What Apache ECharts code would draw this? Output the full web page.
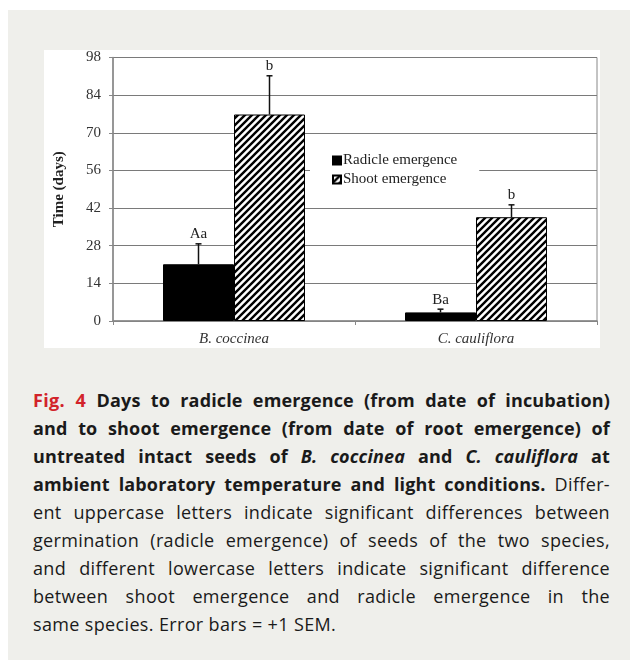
<!DOCTYPE html>
<html>
<head>
<meta charset="utf-8">
<script src="https://cdn.jsdelivr.net/npm/echarts@6/dist/echarts.min.js"></script>
<style>
  body { margin: 0; width: 630px; height: 660px; background: #fff; position: relative; overflow: hidden; }
  #bg { position: absolute; left: 8px; top: 10px; width: 622px; height: 650px; background: #efefeb; }
  #panel { position: absolute; left: 44px; top: 50px; width: 556px; height: 298px; background: #fff; }
  #chart { width: 556px; height: 298px; }
  #caption { position: absolute; left: 33px; top: 386px; width: 577px; font-family: "Open Sans", "Noto Sans", sans-serif; font-size: 18px; letter-spacing: 0.35px; color: #1a1a1a; }
  #caption .ln { height: 28px; line-height: 28px; white-space: nowrap; text-align: justify; text-align-last: justify; }
  #caption .ln.last { text-align: left; text-align-last: left; }
  #caption b { font-weight: 700; letter-spacing: 0.15px; }
  #caption .fig { color: #d2232a; font-weight: 700; }
</style>
</head>
<body>
<div id="bg"></div>
<div id="panel"><div id="chart"></div></div>
<div id="caption">
  <div class="ln"><span class="fig">Fig. 4</span> <b>Days to radicle emergence (from date of incubation)</b></div>
  <div class="ln"><b>and to shoot emergence (from date of root emergence) of</b></div>
  <div class="ln"><b>untreated intact seeds of <i>B. coccinea</i> and <i>C. cauliflora</i> at</b></div>
  <div class="ln"><b>ambient laboratory temperature and light conditions.</b> Differ-</div>
  <div class="ln">ent uppercase letters indicate significant differences between</div>
  <div class="ln">germination (radicle emergence) of seeds of the two species,</div>
  <div class="ln">and different lowercase letters indicate significant difference</div>
  <div class="ln">between shoot emergence and radicle emergence in the</div>
  <div class="ln last">same species. Error bars = +1 SEM.</div>
</div>
<script>
// 数据
var categories = ['B. coccinea', 'C. cauliflora'];
var radicleDays = [21.1, 3.2];
var shootDays = [76.8, 38.6];
var radicleSem = [7.6, 1.2];
var shootSem = [14.4, 4.6];
var radicleLetters = ['Aa', 'Ba'];
var shootLetters = ['b', 'b'];

var serif = '"Liberation Serif", "Times New Roman", serif';
var barW = 71;

// 斜线填充
var hatch = document.createElement('canvas');
hatch.width = 7;
hatch.height = 7;
var hc = hatch.getContext('2d');
hc.fillStyle = '#fff';
hc.fillRect(0, 0, 7, 7);
hc.strokeStyle = '#000';
hc.lineWidth = 2.4;
hc.beginPath();
hc.moveTo(0, 7); hc.lineTo(7, 0);
hc.moveTo(-1, 1); hc.lineTo(1, -1);
hc.moveTo(6, 8); hc.lineTo(8, 6);
hc.stroke();

// 误差线 + 字母
function errData(means, sems) {
  var out = [];
  for (var i = 0; i < means.length; i++) {
    out.push([i, means[i], sems[i]]);
  }
  return out;
}
function errRender(offset, letters) {
  return function (params, api) {
    var idx = api.value(0);
    var mean = api.value(1);
    var sem = api.value(2);
    var p0 = api.coord([idx, mean]);
    var p1 = api.coord([idx, mean + sem]);
    var x = p0[0] + offset;
    return {
      type: 'group',
      children: [
        { type: 'line', shape: { x1: x, y1: p0[1], x2: x, y2: p1[1] }, style: { stroke: '#111', lineWidth: 1.5 } },
        { type: 'line', shape: { x1: x - 3, y1: p1[1], x2: x + 3, y2: p1[1] }, style: { stroke: '#111', lineWidth: 1.5 } },
        { type: 'text', style: { text: letters[params.dataIndex], x: x, y: p1[1] - 2, align: 'center', verticalAlign: 'bottom',
            textAlign: 'center', textVerticalAlign: 'bottom', font: '15px ' + serif, fill: '#222' } }
      ]
    };
  };
}

var chart = echarts.init(document.getElementById('chart'));
var option = {
  animation: false,
  grid: { left: 57, right: 3, top: 6, bottom: 27, show: true, borderColor: '#888', borderWidth: 1 },
  legend: {
    data: ['Radicle emergence', 'Shoot emergence'],
    icon: 'rect',
    orient: 'vertical',
    left: 266,
    top: 100,
    padding: [3, 22, 6, 22],
    backgroundColor: '#fff',
    itemWidth: 8,
    itemHeight: 8,
    itemGap: 4,
    textStyle: { fontFamily: serif, fontSize: 15, color: '#222', lineHeight: 14, padding: [0, 0, 0, -3] }
  },
  xAxis: {
    type: 'category',
    data: categories,
    axisLine: { lineStyle: { color: '#888', width: 1.5 } },
    axisTick: { show: true, length: 4, lineStyle: { color: '#888' } },
    axisLabel: { fontFamily: serif, fontStyle: 'italic', fontSize: 15, color: '#333', margin: 11 }
  },
  yAxis: {
    type: 'value',
    min: 0,
    max: 98,
    interval: 14,
    name: 'Time (days)',
    nameLocation: 'middle',
    nameGap: 46,
    nameTextStyle: { fontFamily: serif, fontWeight: 'bold', fontSize: 15, color: '#222' },
    axisLine: { show: true, lineStyle: { color: '#888', width: 1.5 } },
    axisTick: { show: true, length: 4, lineStyle: { color: '#888' } },
    axisLabel: { fontFamily: serif, fontSize: 15, color: '#333', margin: 12 },
    splitLine: { lineStyle: { color: '#7a7a7a', width: 1.2 } }
  },
  series: [
    {
      name: 'Radicle emergence',
      type: 'bar',
      data: radicleDays,
      barWidth: barW,
      barGap: '0%',
      itemStyle: { color: '#000', borderColor: '#000', borderWidth: 1 }
    },
    {
      name: 'Shoot emergence',
      type: 'bar',
      data: shootDays,
      barWidth: barW,
      barGap: '0%',
      itemStyle: { color: { image: hatch, repeat: 'repeat' }, borderColor: '#000', borderWidth: 1 }
    },
    {
      type: 'custom',
      renderItem: errRender(-barW / 2, radicleLetters),
      data: errData(radicleDays, radicleSem),
      z: 5
    },
    {
      type: 'custom',
      renderItem: errRender(barW / 2, shootLetters),
      data: errData(shootDays, shootSem),
      z: 5
    }
  ]
};
chart.setOption(option);
</script>
</body>
</html>
